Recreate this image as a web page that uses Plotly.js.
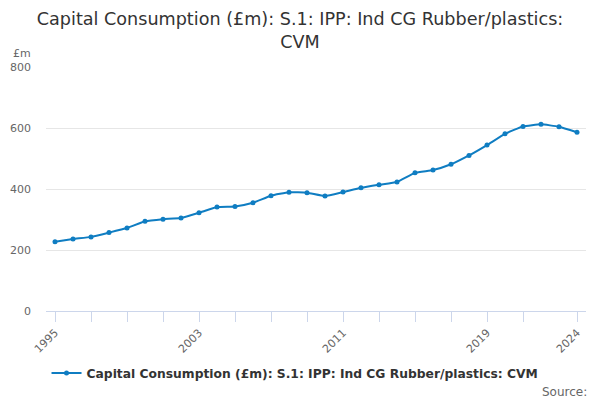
<!DOCTYPE html>
<html>
<head>
<meta charset="utf-8">
<script src="https://cdn.plot.ly/plotly-3.0.1.min.js"></script>
<style>
  html, body { margin: 0; padding: 0; background: #fff; }
  #chart { width: 600px; height: 400px; }
</style>
</head>
<body>
<div id="chart"></div>
<script>
// values
var years = [1995, 1996, 1997, 1998, 1999, 2000, 2001, 2002, 2003, 2004,
             2005, 2006, 2007, 2008, 2009, 2010, 2011, 2012, 2013, 2014,
             2015, 2016, 2017, 2018, 2019, 2020, 2021, 2022, 2023, 2024];
var capCons = [227, 236, 243, 257, 272, 294, 301, 305, 322, 341,
               343, 355, 378, 389, 388, 377, 390, 404, 414, 423,
               453, 462, 481, 510, 544, 581, 605, 612, 604, 586];
var tickYears = [1995, 1997, 1999, 2001, 2003, 2005, 2007, 2009, 2011, 2013,
                 2015, 2017, 2019, 2021, 2024];
var tickLabels = ['1995', '', '', '', '2003', '', '', '', '2011', '',
                  '', '', '2019', '', '2024'];
var seriesName = 'Capital Consumption (£m): S.1: IPP: Ind CG Rubber/plastics: CVM';

var font = 'DejaVu Sans, sans-serif';
var blue = '#0f7dc2';

var data = [{
    x: years,
    y: capCons,
    type: 'scatter',
    mode: 'lines+markers',
    name: seriesName,
    line: { color: blue, width: 2, shape: 'spline', smoothing: 0.4 },
    marker: { color: blue, size: 5 }
}];

var layout = {
    width: 600,
    height: 400,
    margin: { l: 46, r: 14, t: 67, b: 89 },
    paper_bgcolor: '#fff',
    plot_bgcolor: '#fff',
    font: { family: font, color: '#666', size: 11 },
    title: {
        text: 'Capital Consumption (£m): S.1: IPP: Ind CG Rubber/plastics:<br>CVM',
        font: { family: font, size: 17.6, color: '#333' },
        x: 0.5,
        xanchor: 'center',
        y: 0.937,
        yanchor: 'top'
    },
    xaxis: {
        range: [1994.5, 2024.5],
        tickmode: 'array',
        tickvals: tickYears,
        ticktext: tickLabels,
        tickangle: -45,
        ticks: 'outside',
        ticklen: 10,
        tickcolor: '#ccd6eb',
        showgrid: false,
        showline: true,
        linecolor: '#ccd6eb',
        linewidth: 1,
        zeroline: false,
        tickfont: { family: font, size: 11, color: '#666' }
    },
    yaxis: {
        range: [0, 800],
        tickvals: [0, 200, 400, 600, 800],
        showgrid: true,
        gridcolor: '#e6e6e6',
        zeroline: false,
        showline: false,
        ticks: '',
        ticklabelstandoff: 14,
        tickfont: { family: font, size: 11, color: '#666' }
    },
    showlegend: true,
    legend: {
        orientation: 'h',
        xref: 'container',
        x: 0.4917,
        xanchor: 'center',
        yref: 'container',
        y: 0.0675,
        yanchor: 'middle',
        itemwidth: 30,
        font: { family: font, size: 12.3, color: '#333', weight: 'bold' }
    },
    annotations: [
        {
            text: '£m',
            xref: 'paper', yref: 'paper',
            x: -0.065, y: 1.02,
            xanchor: 'left', yanchor: 'bottom',
            showarrow: false,
            font: { family: font, size: 11, color: '#666' }
        },
        {
            text: 'Source:',
            xref: 'paper', yref: 'paper',
            x: 1.006, y: -0.33,
            xanchor: 'right', yanchor: 'middle',
            showarrow: false,
            font: { family: font, size: 12, color: '#666' }
        }
    ]
};

Plotly.newPlot('chart', data, layout, { displayModeBar: false, staticPlot: true });
</script>
</body>
</html>
